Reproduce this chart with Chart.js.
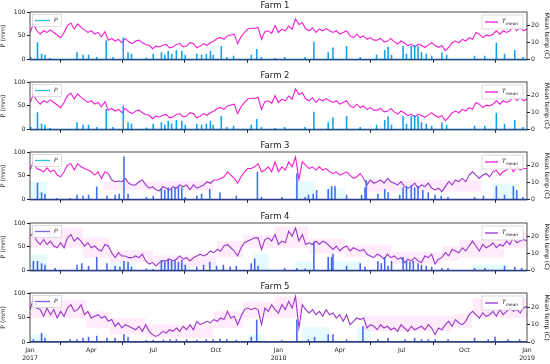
<!DOCTYPE html>
<html>
<head>
<meta charset="utf-8">
<script src="https://cdn.jsdelivr.net/npm/chart.js@4.4.0/dist/chart.umd.min.js"></script>
<style>
  html, body { margin: 0; padding: 0; background: #fff; }
  #wrap { position: relative; width: 550px; height: 364px; overflow: hidden; }
  canvas { position: absolute; left: 0; }
</style>
</head>
<body>
<div id="wrap">
  <canvas id="farm1" width="550" height="65" style="top:0px"></canvas>
  <canvas id="farm2" width="550" height="65" style="top:70px"></canvas>
  <canvas id="farm3" width="550" height="65" style="top:140px"></canvas>
  <canvas id="farm4" width="550" height="65" style="top:211px"></canvas>
  <canvas id="farm5" width="550" height="83" style="top:281px"></canvas>
</div>
<script>
// x axis is days since 1 Jan 2017, temperature read every STEP days
const STEP = 5;
const tickDays = [0, 90, 181, 273, 365, 455, 546, 638, 730];
const tickLabels = [["Jan", "2017"], "Apr", "Jul", "Oct", ["Jan", "2018"], "Apr", "Jul", "Oct", ["Jan", "2019"]];
const farmNames = ["Farm 1", "Farm 2", "Farm 3", "Farm 4", "Farm 5"];

// mean temperature (C)
const temp1 = [16,21,17,15,17,16,17.5,16,14.5,13,16,20,21.5,18,21,19,17.5,16,17,15,16,13.5,16.5,11.5,12.5,11,12,10,12.5,10.5,9.5,11,11.5,10,9,8.5,6.5,8,7.5,8.5,9,7,7.5,9,9.5,7.5,8,10,9.5,7,8,9.5,8.5,10,11,12.5,13,12,14,14.5,15,9.5,13.5,16,18,18.5,18.5,19,12,16.5,17,15.5,20,
  16,18,17,19.8,17.9,24,20.7,21.7,18,17,18.8,16,18,17,18.3,17,16,17,15,16,17,14,13,15,13,14,12,13,11.5,11.5,12.5,10.5,10.8,12.5,10.5,9.2,11,9.8,8.3,9.2,7.3,9.2,8.3,7.3,8.6,10,8.3,7.3,8.3,5.4,7.3,10,11,10,12,11,13,12,16,15,13,14.4,14,15,17,15,17,16,17,19.8,17,18.8,17,18];
const temp2 = [16,20.5,17,15,17,16,17.5,16,14.5,13,16,20,21.5,18,21,19,17.5,16,17,15,16,13.5,16.5,11.5,12.5,11,12,10,12.5,10.5,9.5,11,11.5,10,9,8.5,6.5,8,7.5,8.5,9,7,7.5,9,9.5,7.5,8,10,9.5,7,8,9.5,8.5,10,11,12.5,13,12,14,14.5,15,9.5,13.5,16,18,18.5,18.5,19,12,16.5,17,15.5,20,
  16,18,17,19.8,17.9,24,20.7,21.7,18,17,18.8,16,18,17,18.3,17,16,17,15,16,17,14,13,15,13,14,12,13,11.5,11.5,12.5,10.5,10.8,12.5,10.5,9.2,11,9.8,8.3,9.2,7.3,9.2,8.3,7.3,8.6,10,8.3,7.3,8.3,5.4,7.3,10,11,10,12,11,13,12,16,15,13,14.4,14,15,17,15,17,16,17,19.8,17,18.8,17,18];
const temp3 = [17.4,22.2,18.3,17.4,16.4,18.7,16.4,17.4,14.5,13.5,16.4,20.3,21.2,17.4,21.2,19.3,18.3,17.4,16.4,14.5,16.4,12.5,16.4,15.4,11.6,10.6,11,10.6,12.5,9.7,8.7,8.7,10.6,11.6,8.7,6.8,7.7,5.8,
  5.2,7.7,6.8,5.8,7.7,6.8,8.7,7.7,8.7,5.8,8.7,6.8,7.7,8.7,10.6,9.7,11.6,11.6,12.5,13.5,16.4,14.5,12.5,9.7,13.5,16.4,18.3,18.3,19.3,21.2,16.4,17.4,19.3,16.4,22.2,
  16.4,19.3,17.4,22.2,19.3,25.1,12,22.2,20.3,18.3,19.3,17.4,19.3,17.4,18.3,16.4,15.4,16.4,14.5,15.4,16.4,14.5,12.5,13.5,15.4,12.5,8.7,11.6,9.7,10.6,11.6,9.7,12.5,10.6,9.7,8.7,10.6,7.7,6.8,7.7,9.7,6.8,8.7,7.7,9.7,6.8,
  5.8,6.8,4.8,7.7,10.6,8.7,11.6,10.6,12.5,10.6,14.5,16.4,14.5,12.5,14.5,15.4,13.5,16.4,17.4,14.5,16.4,17.4,20.3,16.4,19.3,17.4,18.3,18.3];
const temp4 = [20.3,22.2,17.4,15.4,18.3,15.4,17.4,14.5,13.5,16.4,13.5,19.3,21.2,17.4,19.3,17.4,14.5,16.4,13.5,14.5,12.5,11.6,15.4,14.5,10.6,7.7,10.6,8.7,8.7,7.7,7.7,8.7,7.7,9.7,5.8,3.9,4.8,2.9,
  4.8,5.8,5.8,6.8,5.8,6.8,8.7,6.8,7.7,5.8,7.7,8.7,9.7,8.7,9.7,11.6,10.6,12.5,11.6,14.5,15.4,13.5,11.6,8.7,13.5,16.4,17.4,18.3,19.3,19.3,12.5,18.3,19.3,17.4,21.2,
  15.4,17.4,16.4,23.2,20.3,25.1,17.4,21.2,15.4,16.4,15.4,17.4,15.4,17.4,16.4,14.5,12.5,14.5,11.6,13.5,14.5,11.6,13.5,12.5,11.6,12.5,9.7,8.7,7.7,9.7,8.7,6.8,9.7,7.7,8.7,6.8,7.7,4.8,6.8,5.8,7.7,5.8,4.8,8.7,7.7,9.7,
  3.9,6.8,7.7,10.6,8.7,12.5,11.6,10.6,13.5,11.6,14.5,17.4,14.5,11.6,15.4,13.5,14.5,16.4,13.5,15.4,14.5,17.4,15.4,19.3,16.4,17.4,18.3,17.4];
const temp5 = [18.5,24.2,19.4,18.5,14.7,19.4,15.6,18.5,13.7,17.5,14.7,19.4,21.3,17.5,18.5,21.3,15.6,17.5,13.7,14.7,15.6,13.7,14.7,11.8,12.8,9,10.9,8,9.9,9,8,7,9,6.1,9.9,6.1,4.2,3.2,
  4.2,6.1,5.1,7,6.1,8,6.1,9,7,9.9,7,11.8,9.9,10.9,11.8,10.9,12.8,11.8,13.7,12.8,17.5,13.7,14.7,9.9,14.7,18.5,19.4,18.5,19.4,18.5,9.9,19.4,17.5,21.3,18.5,
  16.6,21.3,18.5,23.2,19.4,26.1,8,21.3,18.5,16.6,18.5,15.6,17.5,14.7,18.5,15.6,16.6,13.7,15.6,11.8,15.6,9.9,11.8,13.7,12.8,13.7,8,9.9,9,7,9.9,8,9,7,8,6.1,9.9,8,6.1,9,7,8,9,7,9.9,8,
  4.2,8,7,9.9,11.8,9,12.8,10.9,9.9,11.8,15.6,17.5,15.6,13.7,16.6,14.7,15.6,17.5,14.7,18.5,15.6,17.5,19.4,17.5,18.5,16.6,19.4,20.4];

// precipitation events (day, mm)
const rainDays1 = [1,11,17,22,29,69,78,86,98,112,122,137,144,149,171,181,193,198,203,208,215,223,228,245,252,259,265,269,281,289,299,325,333,340,360,374,404,417,438,445,465,485,509,521,526,531,548,553,560,565,570,575,582,590,605,612,653,668,685,697,712,724];
const rain1 = [5,36,12,10,3,15,10,10,5,40,5,46,15,12,4,12,15,10,18,12,20,18,10,12,10,12,18,10,28,5,8,10,22,5,3,5,5,37,15,25,28,5,10,20,27,10,28,12,28,30,28,15,12,8,15,10,8,8,35,12,20,5];
const rainDays2 = rainDays1;
const rain2 = [5,36,12,10,3,15,10,10,5,43,5,50,15,12,4,12,15,10,18,12,20,18,10,12,10,12,18,10,28,5,8,10,22,5,3,5,5,37,15,25,28,5,10,20,27,10,28,12,28,30,28,15,12,8,15,10,8,8,35,12,20,5];
const rainDays3 = [11,17,22,39,59,69,78,86,98,113,125,131,138,144,171,181,193,198,203,208,213,218,223,228,245,252,264,279,303,334,340,370,392,404,409,416,421,438,443,448,465,487,492,494,511,521,526,543,548,553,560,565,570,577,585,595,604,614,653,666,685,697,710,715,724];
const rain3 = [35,15,12,3,3,10,8,10,27,8,10,12,90,12,5,8,22,20,25,22,25,28,25,5,8,12,22,15,8,58,5,5,55,5,10,12,20,22,28,28,10,10,25,40,12,22,15,10,25,28,30,25,28,20,15,10,8,5,5,8,28,10,28,20,5];
const rainDays4 = [5,11,17,22,37,69,76,86,98,113,125,132,138,144,149,171,181,193,198,203,208,213,218,223,228,245,255,264,274,284,294,303,325,330,335,374,392,404,417,438,443,445,465,485,492,511,516,521,526,531,548,553,558,563,570,575,582,590,605,614,653,668,697,712,722];
const rain4 = [20,20,15,12,5,12,15,10,28,15,10,8,20,18,8,4,3,22,18,25,20,22,18,22,12,8,12,18,10,12,8,10,15,25,10,5,5,4,60,28,28,35,10,15,8,20,15,28,10,20,28,20,18,20,15,12,10,8,5,5,5,5,10,8,5];
const rainDays5 = [5,17,22,59,69,78,86,98,113,125,138,144,171,181,196,206,215,230,245,259,269,279,289,303,325,333,370,392,409,418,438,445,465,489,511,526,551,565,575,585,595,614,653,673,683,702,719];
const rain5 = [5,18,8,5,5,8,10,12,8,8,15,10,3,4,4,5,5,5,4,5,5,6,5,4,10,45,3,45,5,10,15,15,5,32,5,8,5,8,5,5,5,5,8,5,10,5,5];

// shaded ranges: temperature band [start, end, low, high] and rain band [start, end, top]
const tBandStart3 = [108, 201, 492];
const tBandEnd3 = [201, 270, 663];
const tBandLow3 = [5.8, 5.5, 4.8];
const tBandHigh3 = [10.6, 11, 11.6];
const pBandStart3 = [0, 389, 436, 680];
const pBandEnd3 = [25, 418, 463, 715];
const pBandTop3 = [38, 38, 24, 34];

const tBandStart4 = [0, 78, 117, 181, 274, 313, 360, 409, 463, 531, 605, 630, 697];
const tBandEnd4 = [78, 117, 181, 274, 313, 360, 409, 463, 531, 605, 630, 697, 730];
const tBandLow4 = [13.5, 7.7, 5, 2, 8, 13.5, 13.5, 10, 8, 4, 6, 8, 13.5];
const tBandHigh4 = [25, 19.3, 12, 9, 17.5, 21, 26, 19, 15, 11, 14.5, 18, 23];
const pBandStart4 = [0, 117, 191, 328, 389, 436, 649];
const pBandEnd4 = [25, 156, 235, 351, 418, 485, 702];
const pBandTop4 = [34, 17, 17, 35, 20, 20, 13];

const tBandStart5 = [0, 83, 117, 170, 269, 313, 360, 490, 620, 650];
const tBandEnd5 = [83, 117, 170, 269, 313, 360, 400, 620, 650, 730];
const tBandLow5 = [13.7, 8, 4.2, 2.3, 8, 13.7, 13.7, 6, 8, 13.7];
const tBandHigh5 = [24, 17.5, 13.7, 9.9, 17.5, 23, 26, 15, 16, 25];
const pBandStart5 = [0, 320, 400, 480];
const pBandEnd5 = [25, 345, 440, 500];
const pBandTop5 = [15, 15, 30, 30];

const MAGENTA = "#f01ed0";
const PURPLE = "#9a36c8";

function toPoints(values) {
  return values.map((v, i) => ({ x: i * STEP, y: v }));
}
function toEvents(days, values) {
  return days.map((d, i) => ({ x: d, y: values[i] }));
}
function toSteps(starts, ends, values) {
  const pts = [];
  starts.forEach((s, k) => {
    pts.push({ x: s, y: values[k] }, { x: ends[k], y: values[k] }, { x: ends[k], y: null });
  });
  return pts;
}

// frame round the plot + the two small legends
const framePlugin = {
  id: "frame",
  afterDatasetsDraw(chart, args, opts) {
    const { ctx, chartArea: a } = chart;
    ctx.save();
    ctx.strokeStyle = "#222";
    ctx.lineWidth = 0.8;
    ctx.strokeRect(a.left, a.top, a.right - a.left, a.bottom - a.top);
    // zero rain line sits on the bottom spine
    ctx.strokeStyle = opts.baseLine;
    ctx.lineWidth = 1.6;
    ctx.beginPath();
    ctx.moveTo(a.left, a.bottom - 0.3);
    ctx.lineTo(a.right, a.bottom - 0.3);
    ctx.stroke();

    // left legend (P)
    ctx.fillStyle = "rgba(255,255,255,0.85)";
    ctx.strokeStyle = "#ccc";
    ctx.lineWidth = 0.7;
    ctx.fillRect(a.left + 2.5, a.top + 2.5, 29, 12);
    ctx.strokeRect(a.left + 2.5, a.top + 2.5, 29, 12);
    ctx.strokeStyle = opts.pLegend;
    ctx.lineWidth = 1.3;
    ctx.beginPath();
    ctx.moveTo(a.left + 5, a.top + 8.5);
    ctx.lineTo(a.left + 20, a.top + 8.5);
    ctx.stroke();
    ctx.fillStyle = "#222";
    ctx.font = "italic 6px 'DejaVu Sans'";
    ctx.textBaseline = "middle";
    ctx.fillText("P", a.left + 24, a.top + 8.5);

    // right legend (T mean)
    const rx = a.right - 45;
    ctx.fillStyle = "rgba(255,255,255,0.85)";
    ctx.strokeStyle = "#ccc";
    ctx.lineWidth = 0.7;
    ctx.fillRect(rx, a.top + 3, 41, 14);
    ctx.strokeRect(rx, a.top + 3, 41, 14);
    ctx.strokeStyle = opts.tLegend;
    ctx.lineWidth = 1.3;
    ctx.beginPath();
    ctx.moveTo(rx + 3, a.top + 10);
    ctx.lineTo(rx + 16, a.top + 10);
    ctx.stroke();
    ctx.fillStyle = "#222";
    ctx.font = "italic 6px 'DejaVu Sans'";
    ctx.fillText("T", rx + 20, a.top + 9.5);
    ctx.font = "italic 4.2px 'DejaVu Sans'";
    ctx.fillText("mean", rx + 24, a.top + 11.5);
    ctx.restore();
  }
};

function makeFarm(id, k, temp, rainDays, rain, cfg) {
  const last = k === 4;
  const inPurple = x => cfg.purple.some(r => x >= r[0] && x < r[1]);
  const datasets = [];

  if (cfg.pBand) {
    datasets.push({
      type: "line", data: toSteps(cfg.pBand[0], cfg.pBand[1], cfg.pBand[2]),
      yAxisID: "yP", borderWidth: 0, pointRadius: 0, fill: "origin",
      backgroundColor: "rgba(205,250,250,0.5)", order: 10
    });
  }
  if (cfg.tBand) {
    datasets.push({
      type: "line", data: toSteps(cfg.tBand[0], cfg.tBand[1], cfg.tBand[2]),
      yAxisID: "yT", borderWidth: 0, pointRadius: 0, fill: false, order: 9
    });
    datasets.push({
      type: "line", data: toSteps(cfg.tBand[0], cfg.tBand[1], cfg.tBand[3]),
      yAxisID: "yT", borderWidth: 0, pointRadius: 0, fill: "-1",
      backgroundColor: "rgba(255,208,244,0.42)", order: 8
    });
  }
  datasets.push({
    type: "line", label: "Tmean", data: toPoints(temp), yAxisID: "yT",
    borderColor: cfg.purple.length ? PURPLE : MAGENTA, borderWidth: 1.1,
    pointRadius: 0, tension: 0, order: 5,
    segment: { borderColor: c => inPurple(c.p0.parsed.x) ? PURPLE : MAGENTA }
  });
  datasets.push({
    type: "bar", label: "P", data: toEvents(rainDays, rain), yAxisID: "yP",
    backgroundColor: cfg.pColor, barThickness: 0.9, order: 1
  });

  new Chart(document.getElementById(id), {
    type: "line",
    data: { datasets: datasets },
    plugins: [framePlugin],
    options: {
      responsive: false,
      animation: false,
      events: [],
      layout: { padding: 0 },
      plugins: {
        legend: { display: false },
        tooltip: { enabled: false },
        title: {
          display: true, text: farmNames[k], color: "#222",
          font: { family: "DejaVu Sans", size: 8.5, weight: "normal", lineHeight: 1.2 },
          padding: { top: 1, bottom: 0.8 }
        },
        frame: { pLegend: cfg.pLegend, tLegend: cfg.tLegend, baseLine: cfg.baseLine }
      },
      scales: {
        x: {
          type: "linear", min: 0, max: 730, offset: false,
          afterBuildTicks: s => { s.ticks = tickDays.map(v => ({ value: v })); },
          afterFit: s => { s.height = last ? 22 : 4; },
          grid: { drawOnChartArea: false, drawTicks: true, tickLength: 3, color: "#222" },
          border: { display: false },
          ticks: {
            display: last, padding: 1, color: "#222", maxRotation: 0, autoSkip: false,
            font: { family: "DejaVu Sans", size: 6.2, lineHeight: 1.3 },
            callback: (v, i) => tickLabels[i]
          }
        },
        yP: {
          position: "left", min: 0, max: 100,
          afterBuildTicks: s => { s.ticks = [0, 50, 100].map(v => ({ value: v })); },
          afterFit: s => { s.width = 30; },
          grid: { drawOnChartArea: false, tickLength: 3, color: "#222" },
          border: { display: false },
          ticks: { padding: 1.5, color: "#222", font: { family: "DejaVu Sans", size: 6.2 } },
          title: { display: true, text: "P (mm)", color: "#222", padding: 0,
                   font: { family: "DejaVu Sans", size: 6.2 } }
        },
        yT: {
          position: "right", min: 0, max: 28,
          afterBuildTicks: s => { s.ticks = [0, 10, 20].map(v => ({ value: v })); },
          afterFit: s => { s.width = 23; },
          grid: { drawOnChartArea: false, tickLength: 3, color: "#222" },
          border: { display: false },
          ticks: { padding: 1, color: "#222", font: { family: "DejaVu Sans", size: 6.2 } },
          title: { display: true, text: "Mean temp (C)", color: "#222", padding: 0,
                   font: { family: "DejaVu Sans", size: 6.2 } }
        }
      }
    }
  });
}

makeFarm("farm1", 0, temp1, rainDays1, rain1,
  { purple: [], pColor: "#0ea2f0", pLegend: "#2cc4d6", tLegend: MAGENTA, baseLine: "#1f4f8a" });
makeFarm("farm2", 1, temp2, rainDays2, rain2,
  { purple: [], pColor: "#0ea2f0", pLegend: "#2cc4d6", tLegend: MAGENTA, baseLine: "#1f4f8a" });
makeFarm("farm3", 2, temp3, rainDays3, rain3,
  { purple: [[113, 270], [490, 680]], pColor: "#3f6ef2", pLegend: "#2cc4d6", tLegend: MAGENTA, baseLine: "#2a3f8a",
    tBand: [tBandStart3, tBandEnd3, tBandLow3, tBandHigh3], pBand: [pBandStart3, pBandEnd3, pBandTop3] });
makeFarm("farm4", 3, temp4, rainDays4, rain4,
  { purple: [[0, 731]], pColor: "#4763ee", pLegend: "#7b68ee", tLegend: PURPLE, baseLine: "#2a3f8a",
    tBand: [tBandStart4, tBandEnd4, tBandLow4, tBandHigh4], pBand: [pBandStart4, pBandEnd4, pBandTop4] });
makeFarm("farm5", 4, temp5, rainDays5, rain5,
  { purple: [[0, 731]], pColor: "#4763ee", pLegend: "#7b68ee", tLegend: PURPLE, baseLine: "#2a3f8a",
    tBand: [tBandStart5, tBandEnd5, tBandLow5, tBandHigh5], pBand: [pBandStart5, pBandEnd5, pBandTop5] });
</script>
</body>
</html>
